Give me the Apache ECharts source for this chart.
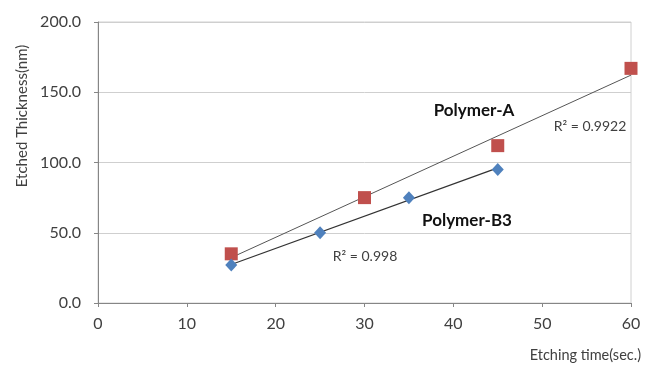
<!DOCTYPE html>
<html><head><meta charset="utf-8">
<script src="https://cdn.jsdelivr.net/npm/echarts@6/dist/echarts.min.js"></script>
<style>html,body{margin:0;padding:0;background:#fff}#c{width:645px;height:365px}</style>
</head><body><div id="c"></div>
<script>
const timeA = [15, 30, 45, 60];
const thickA = [35, 75, 112, 167];
const timeB3 = [15, 25, 35, 45];
const thickB3 = [27, 50, 75, 95];
const yTicks = [0, 50, 100, 150, 200];
const xTicks = [0, 10, 20, 30, 40, 50, 60];

function fit(xs, ys) {
  const n = xs.length;
  const mx = xs.reduce((a, b) => a + b, 0) / n;
  const my = ys.reduce((a, b) => a + b, 0) / n;
  let sxy = 0, sxx = 0;
  for (let i = 0; i < n; i++) { sxy += (xs[i] - mx) * (ys[i] - my); sxx += (xs[i] - mx) ** 2; }
  const m = sxy / sxx, b = my - m * mx;
  return [[xs[0], m * xs[0] + b], [xs[n - 1], m * xs[n - 1] + b]];
}
const font = 'Lato, "Open Sans", sans-serif';
const chart = echarts.init(document.getElementById('c'));
chart.setOption({
  animation: false,
  grid: { left: 98, right: 14, top: 22, bottom: 62, show: true, borderColor: '#d0d0d0', borderWidth: 1 },
  xAxis: {
    type: 'value', min: xTicks[0], max: xTicks[xTicks.length - 1], interval: 10,
    axisLine: { lineStyle: { color: '#868686' } },
    axisTick: { show: true, length: 4, lineStyle: { color: '#868686' } },
    axisLabel: { color: '#404040', fontSize: 16, fontFamily: font, margin: 13 },
    splitLine: { show: false }
  },
  yAxis: {
    type: 'value', min: yTicks[0], max: yTicks[yTicks.length - 1], interval: 50,
    axisLine: { show: true, lineStyle: { color: '#868686' } },
    axisTick: { show: true, length: 4, lineStyle: { color: '#868686' } },
    axisLabel: { color: '#404040', fontSize: 16, fontFamily: font, margin: 17, formatter: v => v.toFixed(1) },
    splitLine: { lineStyle: { color: '#cfcfcf' } }
  },
  series: [
    { type: 'line', data: fit(timeA, thickA), symbol: 'none', lineStyle: { color: '#555', width: 1 }, z: 1 },
    { type: 'line', data: fit(timeB3, thickB3), symbol: 'none', lineStyle: { color: '#333', width: 1.3 }, z: 1 },
    { type: 'scatter', name: 'Polymer-A', data: timeA.map((x, i) => [x, thickA[i]]), symbol: 'rect', symbolSize: 13, itemStyle: { color: '#c0504d', opacity: 1 }, z: 3 },
    { type: 'scatter', name: 'Polymer-B3', data: timeB3.map((x, i) => [x, thickB3[i]]), symbol: 'diamond', symbolSize: [12, 13], itemStyle: { color: '#4f81bd', opacity: 1 }, z: 3 }
  ],
  graphic: [
    { type: 'text', x: 22, y: 116, rotation: Math.PI / 2, style: { text: 'Etched Thickness(nm)', fill: '#404040', font: '15px ' + font, align: 'center', verticalAlign: 'middle' } },
    { type: 'text', x: 641, y: 355, style: { text: 'Etching time(sec.)', fill: '#404040', font: '14.5px ' + font, align: 'right', verticalAlign: 'middle' } },
    { type: 'text', x: 474, y: 111, style: { text: 'Polymer-A', fill: '#111', font: 'bold 17px ' + font, align: 'center', verticalAlign: 'middle' } },
    { type: 'text', x: 590, y: 126, style: { text: 'R² = 0.9922', fill: '#404040', font: '14px ' + font, align: 'center', verticalAlign: 'middle' } },
    { type: 'text', x: 467, y: 221, style: { text: 'Polymer-B3', fill: '#111', font: 'bold 17px ' + font, align: 'center', verticalAlign: 'middle' } },
    { type: 'text', x: 365, y: 256, style: { text: 'R² = 0.998', fill: '#404040', font: '14px ' + font, align: 'center', verticalAlign: 'middle' } }
  ]
});
</script></body></html>
